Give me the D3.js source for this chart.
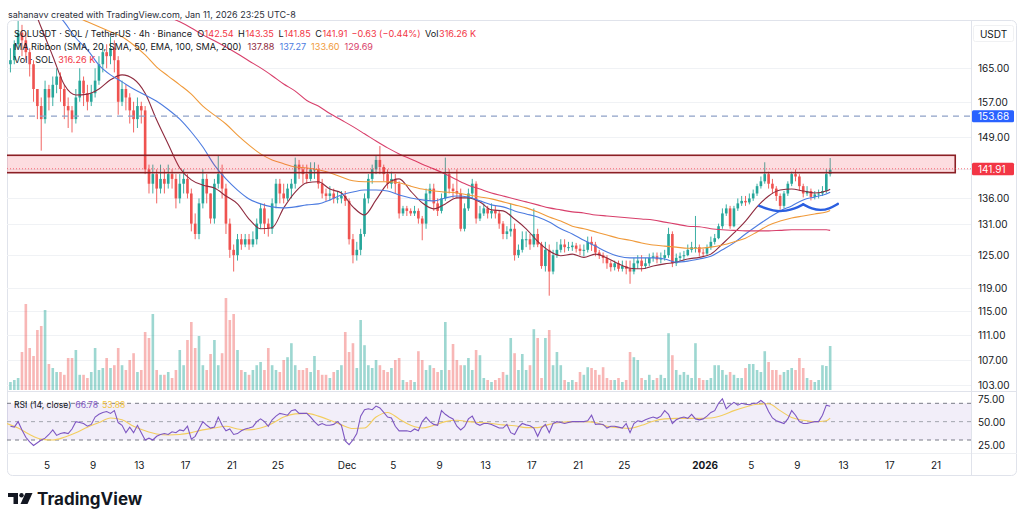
<!DOCTYPE html>
<html><head><meta charset="utf-8">
<script src="https://cdn.jsdelivr.net/npm/d3@7"></script>
<style>body{margin:0;background:#fff;}svg{display:block;font-family:Inter,"Noto Sans",sans-serif;}</style>
</head><body><svg id="c" width="1024" height="522"></svg>
<script>
// ---------- DATA (8h candles from 2025-11-01 16:00, UTC-8) ----------
const firstOpen = 166;
const closes = [167,
171,174,172, 169,166,160, 156,153,160, 158,161,163, 160,156,155, 153,158,162, 159,157,159, 162,166,169, 168,170,167, 157,160,158,
155,153,156, 155,142,139, 141,138,140, 139,141,140, 136,139,140, 137,131,129, 135,140,137, 132,139,141, 138,131,126, 125,128,127,
128,127,128, 131,134,131, 130,135,139, 137,136,138, 139,143,142, 141,140,142, 142,139,137, 136.5,137,136, 136,136.5,135.5,
128,125,126, 129,136,140, 142,144,142.5, 141,139,140, 139,133,134, 133.5,133,133.5, 132,131,137, 138,135,133.5, 136,141,138,
137.5,137,130, 134,137,139, 132,133,134, 133,133.5,133, 131,129,129.5, 130,125,126, 128,128,127, 129,127,123, 126,122,125,
126,127,126.5, 126.5,126.8,126.2, 125.8,126,127.5, 127,125.5,125, 124.5,123.5,122.8, 123.5,122.5,123, 122.5,122,123.5, 124,123,123.5,
124.5,124.8,124.2, 124.5,125,129, 123.5,124.5,124.8, 125,126,126.5, 126.5,125.5,125.3,
126.5,127.5,128.2, 130.5,133,134, 130.5,134,135, 135.5,135.2,136, 137,138.5,139.5, 141,139,138, 136.5,134.5,137, 139,141,140.5,
138.5,137,137.5, 136.3,136.8,137, 137.5,141,141.91];
const highs = [170,
172,177,176, 174,170,167, 160,158,162, 161,163,165, 164,161,158, 156,160,165, 163,161,161, 165,168,171, 171,173,172, 168,162,161,
159,157,158, 157,156,143, 143,142,143, 142,143,142, 141,141,142, 141,138,133, 136,142,141, 137,140,145, 143,139,132, 127,129,129,
129,129,129.5, 132,135,135, 132,136,140, 140,139,139, 140,144.5,144, 143,143,143.5, 143.5,143,140, 138,138.5,138, 137.5,137.5,137.5,
136,129,127.5, 130,137,141, 143,145,147, 143,142,141.5, 141,139.5,134.5, 134.5,134,134.5, 134,132.5,138, 139,139,136, 137,144.5,142,
139,142,138, 135,138,140, 139.5,134.5,135, 134.5,135,134.5, 133.5,131.5,130.5, 135,131,127, 129.5,129.5,129, 134,130,127.5, 127.5,127,126,
127.5,128,128, 127.5,127.5,127.3, 127,127,128.5, 128.5,127.5,126, 125.5,125,124, 124,124,124, 124,124,124.5, 125,125,124.5,
125.3,125.5,125.5, 125.5,126,130.2, 129.5,125.3,125.5, 125.8,127,127.5, 132.5,127,126.2,
127,128.5,129, 131,134,134.8, 134.5,134.5,136, 136.5,136.5,137, 137.8,139,140.5, 143.5,141.5,140, 138.5,137,137.5, 139.5,141.5,142,
141,139,138.5, 138,137.5,137.8, 138.5,142,144.4];
const lows = [164,
166,170,168, 167,163,157, 153,146,152, 155,156,159, 157,153,151, 150,152,157, 156,155,156, 158,161,164, 165,166,164, 154,156,155,
152,150,151, 152,141,137, 137,135,137, 137,138,138, 134,135,137, 136,129.5,128, 128,134,135, 131,131,138, 136,129,124.5, 122,124,126,
126.5,126,126.5, 127,130,129, 128.5,129,134, 135,135,135.5, 136,138,140, 139,139,139.5, 140,138,136, 135.5,135.5,135, 135,135,134.5,
127,123.5,124, 125,128.5,135, 139,141,141, 139.5,138,138, 137,132,132.5, 132.5,132.5,132.5, 131,127.8,130, 135.5,133.5,132.5, 133,135.5,137,
136,136,129.5, 129.5,133.5,136, 131,131.5,132.5, 132,132,132, 130,128,128, 128.5,124,124.5, 125.5,126.5,126, 126.5,126.5,122.5, 122,117.7,121.5,
124.5,125.5,125.5, 125.8,125.8,125.5, 125,124.8,125.5, 125.8,124.8,124.3, 123.5,122.5,122, 122.2,122,122, 121.5,119.8,121.5, 122.5,122,122.5,
123,123.8,123.5, 123.5,124,124.5, 122.8,123,123.8, 124,124.8,125.5, 125.5,124.8,124.7,
125,126,127, 128,130,132.5, 130,130.3,133.5, 134.5,134.5,134.8, 135.5,136.5,138, 139,138,137, 135.5,133.7,134, 136.5,138.5,139.5,
137.5,136.2,136.5, 135.6,135.8,136, 136.5,137,140.5];
const volumes = [200,
250,300,950, 2150,1050,850, 1500,1600,2000, 650,550,450, 450,380,800, 800,1000,380, 380,300,450, 1050,500,550, 800,550,620, 1050,620,500,
750,920,450, 500,1450,1300, 1900,500,380, 380,450,300, 500,1000,620, 1250,1700,1050, 1350,620,500, 900,1250,620, 920,2300,1750, 1900,1000,500,
450,380,500, 620,700,500, 1050,620,500, 450,750,820, 1170,620,500, 500,550,450, 850,500,380, 380,300,450, 500,620,1450,
950,1170,550, 1750,1120,620, 550,750,620, 500,450,550, 750,800,250, 200,250,200, 970,750,500, 620,550,450, 500,1700,500,
1150,750,620, 620,800,500, 1000,870,300, 250,200,250, 300,450,380, 1300,920,500, 900,500,620, 1520,1300,300, 1300,1500,620,
950,620,250, 200,250,200, 450,380,570, 550,500,380, 570,300,250, 250,300,200, 250,950,820, 750,300,250,
380,250,300, 380,300,1420, 870,500,380, 450,380,300, 1170,300,250,
250,300,620, 620,500,380, 450,380,300, 300,550,650, 650,500,450, 970,700,500, 500,380,450, 500,550,500,
800,550,300, 250,200,250, 620,600,1100];
const rsiValues = [45,
44,50,41, 33,28,24, 27,30,32, 36,41,35, 37,38,37, 42,50,49, 48,45,47, 55,58,60, 61,59,62, 49,46,38,
44,38,46, 38,30,32, 30,34,36, 37,36,39, 38,41,40, 45,31,34, 42,50,46, 43,44,55, 46,40,42, 36,37,40,
42,43,44.5, 50,53,50, 45,52,56, 59,58,57, 62,63,59, 59,59,55, 50,46,48, 46,46,47, 50,46,29,
25,30,37, 56,63,64, 63,67,65, 60,55,54, 45,40,40, 40,39,42, 40,50,55, 50,47,46, 62,58,55,
53,45,41, 44.5,53,56, 48,46,48, 48,47,45, 43,43,47, 38,36,44, 48,46.5,45.5, 43,34,43, 47,38,48,
50,49,48, 49,50,50, 50,50,51, 57,47,47.5, 47,43,45, 45,44,43, 48,38,48, 51,50,52,
53.6,55,53.6, 56,62,58, 48,52,54, 55,53.6,58, 53,52,53,
56,60,62, 70,75,64, 68,71,68, 70,69,68.5, 70,70,73, 70,61,54, 51,49.5,48, 53,62,57,
50,48,48, 49,50,50, 57,68,66.78];
// daily samples (noon) Nov 1 .. Jan 11, plus last value at Jan 11 20:00
const sma20 = [188,185,182.5,175.3,168,161,158.6,158.8,160,162.2,163.4,162.4,159,152.8,147.4,142.3,139.8,138.7,138.1,136.5,134.9,131.9,130,130.2,134.1,137.3,139.2,139.4,137.9,137.1,
134.3,132.7,135.7,139,140,137.5,135.1,133.9,134.9,136.1,136.1,135.3,133.7,133.5,131.9,130,127.6,125.8,124.9,125.2,124.6,125.2,124.5,123.4,122.6,122.5,123,123.4,123.7,124.3,124.6,
125.2,127.1,129.2,131.5,134.3,136.5,137.7,137.9,137.5,137.1,137.5,137.88];
const sma50 = [195,191,188,185,180.4,176.7,172.6,169.6,165.8,163.4,161.7,160,158.6,157.1,155.2,153,150.1,146.8,142.9,140,137.7,135.9,134.9,134.3,134.1,134.3,134.7,134.9,135.7,136.7,
137.3,137.7,137.7,137.5,136.7,136.1,135.7,135.5,136.1,136.5,136.3,135.5,134.7,134.3,133.5,132.9,132.3,131.3,130,129,127.8,126.7,125.6,124.8,124.5,124.5,124.5,124.3,123.7,123.9,124.3,
124.8,126,127.3,129,130.6,132.1,133.5,134.5,135.7,136.3,136.9,137.27];
const ema100 = [185.9,184.5,183.1,181.8,180.4,179.1,178.1,176.8,175.5,174.2,172.9,170.8,168.3,165.3,163.1,161,158.8,156,153.9,151.9,149.4,147.2,145.3,144,143.2,142.5,142.3,141.9,141.3,140.4,
139.6,139.4,139.4,139.4,139.2,138.5,137.9,137.5,137.3,137.1,136.7,136.3,135.9,135.3,134.7,134.1,133.3,132.3,131.5,130.5,130,129.4,128.8,128.2,127.8,127.3,126.9,126.7,126.5,126.3,126.3,
126.5,126.9,127.5,128.2,129.4,130.7,131.5,132.1,132.5,132.9,133.3,133.6];
const sma200 = [201,199.1,197.4,195.6,194,192.2,190.5,188.8,187.1,185.7,184,182.6,181,179.3,178.1,176.8,175.2,173.4,171.9,170.3,168.6,166.8,165.1,163.2,161.2,159.5,157.3,156,154.3,152.8,
151.3,149.7,148.1,146.6,145.3,144.2,143.1,142.1,141,139.8,138.7,137.9,137.1,136.5,135.9,135.3,134.7,134.1,133.7,133.3,133.1,132.7,132.5,132.3,132.1,131.9,131.7,131.3,130.9,130.5,130.4,
130,129.8,129.7,129.6,129.6,129.6,129.7,129.8,129.8,129.8,129.8,129.69];
const rsiMa = [48,43,36,31,30,33,38,44,49,54,52,45,40,36.5,35.5,36,38,41,43,45,42,41,43,48,55,58.5,59,56,51.5,46.5,
42.5,43,55,60,53,46,43,46,50,51.5,50,49,48,46.5,45.5,43.5,43.5,47,49,50,50,49,45,43.5,42.7,46,50.5,53,53.6,53.6,53.6,
54,57,62,66,69,69.5,62,54.5,51.5,50,51,53.88];
const maColors = ["#8e2a3e","#4c7be0","#f09a3a","#d83f6b"];
const priceTicks = [165,157,149,142,136,131,125,119,115,111,107,103];
const rsiTicks = [75,50,25];
const rsiLevels = [70,50,30];
const dateTicks = [["2025-11-05","5"],["2025-11-09","9"],["2025-11-13","13"],["2025-11-17","17"],["2025-11-21","21"],["2025-11-25","25"],
["2025-12-01","Dec"],["2025-12-05","5"],["2025-12-09","9"],["2025-12-13","13"],["2025-12-17","17"],["2025-12-21","21"],["2025-12-25","25"],
["2026-01-01","2026"],["2026-01-05","5"],["2026-01-09","9"],["2026-01-13","13"],["2026-01-17","17"],["2026-01-21","21"]];
const zoneTop = 145.0, zoneBottom = 141.3, zoneEnd = "2026-01-22T16:00";
const alertLevel = 153.68, lastPrice = 141.91;
const arc1 = [["2026-01-05T16:00",134.5],["2026-01-06T12:00",133.8],["2026-01-07T06:00",133.4],["2026-01-08T00:00",133.5],["2026-01-08T18:00",133.9],["2026-01-09T12:00",134.8]];
const arc2 = [["2026-01-09T12:00",134.8],["2026-01-10T06:00",133.9],["2026-01-11T00:00",133.6],["2026-01-11T18:00",133.9],["2026-01-12T12:00",134.9]];

// ---------- LAYOUT ----------
const L=7, R=971, PT=20, PB=391, RT=392, RB=453, OUTR=1017, OUTB=476;
const svg = d3.select("#c");
const U = s => new Date(s+"Z");
const x = d3.scaleUtc().domain([Date.UTC(2025,10,5),Date.UTC(2026,0,21)]).range([47,936]);
const y = d3.scaleLog().domain([165,119]).range([68.3,288.3]);
const yv = d3.scaleLinear().domain([0,2600]).range([PB-1,PB-105]);
const yr = d3.scaleLinear().domain([70,30]).range([403.3,440]);
const H8=8*3600e3, T0=Date.UTC(2025,10,1,16);
const candles = closes.map((c,i)=>{const o=i?closes[i-1]:firstOpen;return {t:new Date(T0+i*H8+4*3600e3),o,c,h:Math.max(highs[i],o,c),l:Math.min(lows[i],o,c),v:volumes[i],r:rsiValues[i]};});
const dayT = i => new Date(Date.UTC(2025,10,1+i,12));
const endT = new Date(Date.UTC(2026,0,11,20));
const toPts = arr => arr.map((v,i)=>({t: i<arr.length-1?dayT(i):endT, v}));
const cw = x(new Date(T0+H8))-x(new Date(T0));

const defs = svg.append("defs");
defs.append("clipPath").attr("id","pp").append("rect").attr("x",L).attr("y",PT).attr("width",R-L).attr("height",PB-PT);
defs.append("clipPath").attr("id","rp").append("rect").attr("x",L).attr("y",RT).attr("width",R-L).attr("height",RB-RT);

svg.append("rect").attr("x",L+0.5).attr("y",PT+0.5).attr("width",OUTR-L-1).attr("height",OUTB-PT-1).attr("rx",5).attr("fill","#fff").attr("stroke","#e0e3eb");

const gp = svg.append("g").attr("clip-path","url(#pp)");
gp.selectAll("line.g").data(priceTicks).join("line").attr("x1",L).attr("x2",R).attr("y1",d=>Math.round(y(d))+0.5).attr("y2",d=>Math.round(y(d))+0.5).attr("stroke","#f0f2f5");

gp.selectAll("rect.v").data(candles).join("rect").attr("x",d=>x(d.t)-cw*0.34).attr("width",cw*0.68)
 .attr("y",d=>yv(d.v)).attr("height",d=>yv(0)-yv(d.v)).attr("fill",d=>d.c>=d.o?"rgba(38,166,154,0.45)":"rgba(239,83,80,0.42)");

const up="#26a69a", dn="#ef5350";
gp.selectAll("line.w").data(candles).join("line").attr("x1",d=>x(d.t)).attr("x2",d=>x(d.t)).attr("y1",d=>y(d.h)).attr("y2",d=>y(d.l))
 .attr("stroke",d=>d.c>=d.o?up:dn).attr("stroke-width",0.9);
gp.selectAll("rect.b").data(candles).join("rect").attr("x",d=>x(d.t)-cw*0.34).attr("width",cw*0.68)
 .attr("y",d=>y(Math.max(d.o,d.c))).attr("height",d=>Math.max(1,Math.abs(y(d.o)-y(d.c)))).attr("fill",d=>d.c>=d.o?up:dn);

const line = d3.line().x(d=>x(d.t)).y(d=>y(d.v)).curve(d3.curveMonotoneX);
[sma20,sma50,ema100,sma200].forEach((arr,k)=>{
  gp.append("path").attr("d",line(toPts(arr))).attr("fill","none").attr("stroke",maColors[k]).attr("stroke-width",1.1);
});

gp.append("rect").attr("x",L-5).attr("width",x(U(zoneEnd))-L+5).attr("y",y(zoneTop)).attr("height",y(zoneBottom)-y(zoneTop))
 .attr("fill","rgba(242,54,69,0.17)").attr("stroke","#8b1f24").attr("stroke-width",1.6);
gp.append("line").attr("x1",L).attr("x2",R).attr("y1",y(alertLevel)).attr("y2",y(alertLevel)).attr("stroke","#8fa1c7").attr("stroke-width",1.3).attr("stroke-dasharray","6 5");
gp.append("line").attr("x1",L).attr("x2",R).attr("y1",y(lastPrice)-1).attr("y2",y(lastPrice)-1).attr("stroke","#f23645").attr("stroke-opacity",0.7).attr("stroke-width",1).attr("stroke-dasharray","1 2");
const aline = d3.line().x(d=>x(U(d[0]))).y(d=>y(d[1])).curve(d3.curveBasis);
[arc1,arc2].forEach(a=>gp.append("path").attr("d",aline(a)).attr("fill","none").attr("stroke","#2b5fe0").attr("stroke-width",2.4).attr("stroke-linecap","round"));

svg.append("line").attr("x1",L).attr("x2",OUTR).attr("y1",PB+0.5).attr("y2",PB+0.5).attr("stroke","#e0e3eb");
svg.append("line").attr("x1",L).attr("x2",OUTR).attr("y1",RB+0.5).attr("y2",RB+0.5).attr("stroke","#eef0f3");
svg.append("line").attr("x1",R+0.5).attr("x2",R+0.5).attr("y1",PT).attr("y2",OUTB).attr("stroke","#e0e3eb");

const gr = svg.append("g").attr("clip-path","url(#rp)");
gr.append("rect").attr("x",L).attr("width",R-L).attr("y",yr(70)).attr("height",yr(30)-yr(70)).attr("fill","rgba(126,87,194,0.1)");
gr.selectAll("line.l").data(rsiLevels).join("line").attr("x1",L).attr("x2",R).attr("y1",d=>yr(d)).attr("y2",d=>yr(d))
 .attr("stroke",d=>d===50?"#a3a6af":"#787b86").attr("stroke-width",1).attr("stroke-dasharray","4 4");
gr.append("path").attr("d",d3.line().x(d=>x(d.t)).y(d=>yr(d.v)).curve(d3.curveMonotoneX)(toPts(rsiMa))).attr("fill","none").attr("stroke","#f3cd5e").attr("stroke-width",1.1);
gr.append("path").attr("d",d3.line().x(d=>x(d.t)).y(d=>yr(d.r))(candles)).attr("fill","none").attr("stroke","#7e57c2").attr("stroke-width",1.1);

const FS=10;
function txt(g,xx,yy,s,opt={}){const t=g.append("text").attr("x",xx).attr("y",yy).attr("dominant-baseline","central").attr("font-size",opt.size||FS)
 .attr("fill",opt.fill||"#131722").attr("font-weight",opt.w||400).attr("text-anchor",opt.anchor||"start").text(s);
 if(opt.len) t.attr("textLength",opt.len).attr("lengthAdjust","spacingAndGlyphs"); return t;}
function runs(xx,yy,parts,size){let cx=xx;parts.forEach(([s,f,gap])=>{const t=txt(svg,cx,yy,s,{fill:f,size});cx+=t.node().getComputedTextLength()+(gap||0);});}

priceTicks.filter(p=>Math.abs(y(p)-y(lastPrice))>7).forEach(p=>txt(svg,978,y(p),p.toFixed(2)));
svg.append("rect").attr("x",973.5).attr("y",25.5).attr("width",40).attr("height",16).attr("rx",2).attr("fill","#fff").attr("stroke","#f0f1f3");
txt(svg,993.5,33.5,"USDT",{anchor:"middle"});
svg.append("rect").attr("x",972).attr("y",y(alertLevel)-6).attr("width",42).attr("height",12).attr("rx",1.5).attr("fill","#2962ff");
txt(svg,978,y(alertLevel),alertLevel.toFixed(2),{fill:"#fff"});
svg.append("rect").attr("x",972).attr("y",y(lastPrice)-7).attr("width",42).attr("height",12.5).attr("rx",1.5).attr("fill","#f23645");
txt(svg,978,y(lastPrice)-1,lastPrice.toFixed(2),{fill:"#fff"});
rsiTicks.forEach(v=>txt(svg,978,yr(v),v.toFixed(2)));
dateTicks.forEach(([d,l])=>txt(svg,x(U(d+"T00:00")),465,l,{anchor:"middle",w:l==="2026"?700:400}));

// header
txt(svg,8,14,"sahanavv created with TradingView.com, Jan 11, 2026 23:25 UTC-8",{fill:"#2a2e39",size:9});
const red="#f23645", ink="#131722", HS=9.1;
runs(14,33,[["SOLUSDT · SOL / TetherUS · 4h · Binance",ink,5],["O",ink,0.5],["142.54",red,4.5],["H",ink,0.5],["143.35",red,4.5],["L",ink,0.5],["141.85",red,4.5],["C",ink,0.5],["141.91",red,4],["−0.63 (−0.44%)",red,4.5],["Vol",ink,0.5],["316.26 K",red,0]],HS);
runs(14,46,[["MA Ribbon (SMA, 20, SMA, 50, EMA, 100, SMA, 200)",ink,6]].concat([sma20,sma50,ema100,sma200].map((a,k)=>[a.slice(-1)[0].toFixed(2),maColors[k],5])),HS);
runs(14,59,[["Vol · SOL",ink,5],["316.26 K",red,0]],HS);
runs(14,405,[["RSI (14, close)",ink,4],[rsiValues.slice(-1)[0].toFixed(2),"#7e57c2",4],[rsiMa.slice(-1)[0].toFixed(2),"#f0c23a",0]],8.6);

// logo
const lg = svg.append("g").attr("fill","#131722");
lg.append("path").attr("d","M8,493 H18 V504 H13.5 V497 H8 Z");
lg.append("circle").attr("cx",21.5).attr("cy",495.2).attr("r",2.2);
lg.append("path").attr("d","M25.5,493 H32.5 L27.5,504 H20.5 Z");
txt(svg,37,498.5,"TradingView",{size:17,w:700});
</script></body></html>
